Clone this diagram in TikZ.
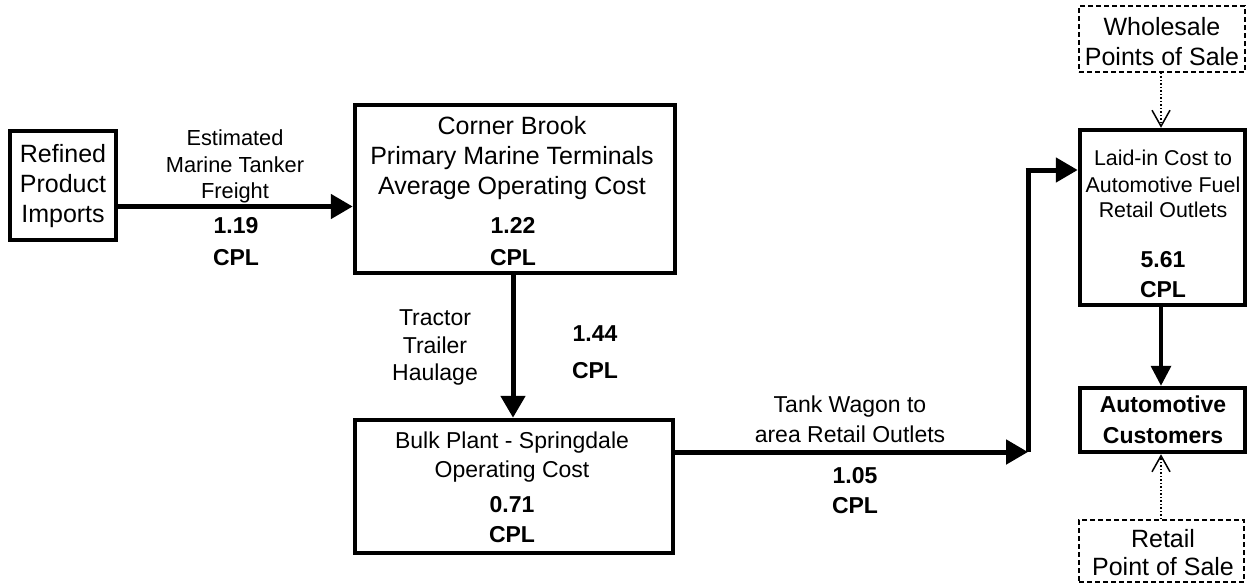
\documentclass[tikz,border=0pt]{standalone}
\usepackage{fontspec}
\setmainfont{Liberation Sans}
\usetikzlibrary{arrows.meta}
\newcommand\fsXXV{\fontsize{25}{30}\selectfont}
\newcommand\fsXXIII{\fontsize{23}{28}\selectfont}
\newcommand\fsXXI{\fontsize{21.8}{26}\selectfont}
\newcommand\fsXXIb{\fontsize{21.4}{26}\selectfont}
\newcommand\fsNum{\fontsize{23}{28}\selectfont\bfseries}
\begin{document}
\begin{tikzpicture}[x=1pt,y=-1pt,
  box/.style={draw, line width=4.5pt, inner sep=0pt},
  dbox/.style={draw, line width=1.8pt, dash pattern=on 5pt off 3pt, inner sep=0pt},
  lbl/.style={inner sep=0pt, anchor=base},
  flow/.style={line width=5pt, -{Triangle[length=22pt,width=24pt]}},
  flowthin/.style={line width=3.5pt, -{Triangle[length=20pt,width=20pt]}},
  plain/.style={line width=5pt},
  dots/.style={line width=1.5pt, dotted, -{Straight Barb[length=16pt,width=18pt,line width=1.5pt]}}]
\useasboundingbox (0,0) rectangle (1251,584);
% boxes
\node[box, minimum width=106pt, minimum height=109pt] (ref) at (63,185.5) {};
\node[box, minimum width=320pt, minimum height=168pt] (cb) at (515,189) {};
\node[box, minimum width=318pt, minimum height=133pt] (bulk) at (514,486.5) {};
\node[box, minimum width=165pt, minimum height=175pt] (laid) at (1162.5,217.5) {};
\node[box, minimum width=165pt, minimum height=64pt] (auto) at (1162.5,420) {};
\node[dbox, minimum width=166pt, minimum height=66pt] (whole) at (1162,39) {};
\node[dbox, minimum width=165pt, minimum height=62pt] (retail) at (1161.5,551) {};
% texts
\node[lbl,font=\fsXXV] (r1) at (63,162) {Refined};
\node[lbl,font=\fsXXV] (r2) at (63,192) {Product};
\node[lbl,font=\fsXXV] (r3) at (63,222) {Imports};
\node[lbl,font=\fsXXI] (e1) at (235,145) {Estimated};
\node[lbl,font=\fsXXI] (e2) at (235,172) {Marine Tanker};
\node[lbl,font=\fsXXI] (e3) at (235,198) {Freight};
\node[lbl,font=\fsNum] (e4) at (236,233) {1.19};
\node[lbl,font=\fsNum] (e5) at (236,265) {CPL};
\node[lbl,font=\fsXXV] (c1) at (512,134) {Corner Brook};
\node[lbl,font=\fsXXV] (c2) at (512,164) {Primary Marine Terminals};
\node[lbl,font=\fsXXV] (c3) at (512,194) {Average Operating Cost};
\node[lbl,font=\fsNum] (c4) at (513,233) {1.22};
\node[lbl,font=\fsNum] (c5) at (513,265) {CPL};
\node[lbl,font=\fsXXIII] (t1) at (435,325) {Tractor};
\node[lbl,font=\fsXXIII] (t2) at (435,353) {Trailer};
\node[lbl,font=\fsXXIII] (t3) at (435,380) {Haulage};
\node[lbl,font=\fsNum] (t4) at (595,341) {1.44};
\node[lbl,font=\fsNum] (t5) at (595,378) {CPL};
\node[lbl,font=\fsXXIII] (b1) at (512,448) {Bulk Plant - Springdale};
\node[lbl,font=\fsXXIII] (b2) at (512,477) {Operating Cost};
\node[lbl,font=\fsNum] (b3) at (512,512) {0.71};
\node[lbl,font=\fsNum] (b4) at (512,542) {CPL};
\node[lbl,font=\fsXXIII] (w1) at (850,412) {Tank Wagon to};
\node[lbl,font=\fsXXIII] (w2) at (850,442) {area Retail Outlets};
\node[lbl,font=\fsNum] (w3) at (855,483) {1.05};
\node[lbl,font=\fsNum] (w4) at (855,513) {CPL};
\node[lbl,font=\fsXXIb] (l1) at (1163,165) {Laid-in Cost to};
\node[lbl,font=\fsXXIb] (l2) at (1163,192) {Automotive Fuel};
\node[lbl,font=\fsXXIb] (l3) at (1163,217) {Retail Outlets};
\node[lbl,font=\fsNum] (l4) at (1163,267) {5.61};
\node[lbl,font=\fsNum] (l5) at (1163,297) {CPL};
\node[lbl,font=\fsXXV] (h1) at (1162,35) {Wholesale};
\node[lbl,font=\fsXXV] (h2) at (1162,65) {Points of Sale};
\node[lbl,font=\fsNum] (a1) at (1163,412) {Automotive};
\node[lbl,font=\fsNum] (a2) at (1163,443) {Customers};
\node[lbl,font=\fsXXV] (p1) at (1163,547) {Retail};
\node[lbl,font=\fsXXV] (p2) at (1163,575) {Point of Sale};
% helper coordinates
\coordinate (yA) at (0,206.5);
\coordinate (xV) at (513,0);
\coordinate (yT) at (0,452);
\coordinate (j1) at (1028,452);
\coordinate (j2) at (1028,170);
\coordinate (xR) at (1161,0);
% connectors
\draw[flow] (ref.east |- yA) -- (cb.west |- yA);
\draw[flow] (cb.south -| xV) -- (bulk.north -| xV);
\draw[flow] (bulk.east |- yT) -- (j1);
\draw[plain] (j1) -- (j2);
\draw[flow] ([xshift=-2.5pt]j2) -- (laid.west |- j2);
\draw[flowthin] (laid.south -| xR) -- (auto.north -| xR);
\draw[dots] (whole.south -| xR) -- (laid.north -| xR);
\draw[dots] (retail.north -| xR) -- (auto.south -| xR);
\end{tikzpicture}
\end{document}
